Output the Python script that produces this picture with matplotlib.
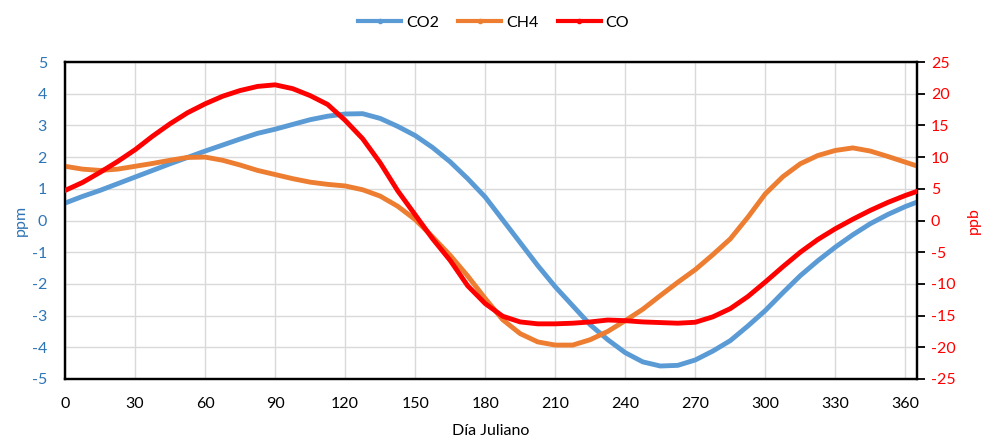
import numpy as np
import matplotlib
matplotlib.use("Agg")
import matplotlib.pyplot as plt
from matplotlib.lines import Line2D

plt.rcParams['font.family'] = ['Lato', 'DejaVu Sans']
plt.rcParams['axes.unicode_minus'] = False

# -----------------------------
# Data
# -----------------------------
dias = [0, 7.5, 15, 22.5, 30, 37.5, 45, 52.5, 60, 67.5, 75, 82.5, 90, 97.5,
        105, 112.5, 120, 127.5, 135, 142.5, 150, 157.5, 165, 172.5, 180,
        187.5, 195, 202.5, 210, 217.5, 225, 232.5, 240, 247.5, 255, 262.5,
        270, 277.5, 285, 292.5, 300, 307.5, 315, 322.5, 330, 337.5, 345,
        352.5, 360, 365]

# ppm
co2 = [0.55, 0.76, 0.95, 1.16, 1.37, 1.58, 1.79, 1.99, 2.19, 2.38, 2.57,
       2.75, 2.88, 3.03, 3.18, 3.29, 3.36, 3.37, 3.22, 2.97, 2.68, 2.30,
       1.85, 1.32, 0.74, 0.02, -0.70, -1.42, -2.09, -2.69, -3.29, -3.76,
       -4.17, -4.46, -4.59, -4.57, -4.40, -4.12, -3.79, -3.33, -2.84, -2.28,
       -1.74, -1.27, -0.84, -0.45, -0.10, 0.19, 0.44, 0.58]

# ppm
ch4 = [1.71, 1.62, 1.58, 1.62, 1.71, 1.80, 1.90, 1.99, 2.00, 1.90, 1.75,
       1.58, 1.45, 1.32, 1.21, 1.14, 1.09, 0.97, 0.77, 0.45, 0.03, -0.52,
       -1.10, -1.75, -2.46, -3.13, -3.57, -3.83, -3.93, -3.93, -3.76, -3.50,
       -3.16, -2.80, -2.37, -1.95, -1.55, -1.08, -0.58, 0.10, 0.84, 1.38,
       1.79, 2.05, 2.21, 2.29, 2.19, 2.02, 1.84, 1.72]

# ppb
co = [4.74, 6.0, 7.6, 9.3, 11.16, 13.3, 15.26, 17.0, 18.4, 19.6, 20.5,
      21.15, 21.4, 20.8, 19.7, 18.3, 15.8, 12.9, 9.1, 4.7, 0.9, -2.9,
      -6.3, -10.3, -13.1, -15.1, -16.0, -16.3, -16.3, -16.2, -16.0, -15.7,
      -15.8, -16.0, -16.1, -16.2, -16.05, -15.2, -13.9, -12.0, -9.7, -7.3,
      -5.0, -3.0, -1.3, 0.2, 1.6, 2.85, 3.95, 4.6]

x_ticks = list(range(0, 361, 30))

c_co2 = "#5B9BD5"
c_ch4 = "#ED7D31"
c_co = "#FF0000"
c_left = "#2E75B6"

# -----------------------------
# Plot
# -----------------------------
fig = plt.figure(figsize=(9.87, 4.41), dpi=100)
ax = fig.add_axes([0.0659, 0.1406, 0.8632, 0.7188])
ax2 = ax.twinx()

ax.plot(dias, co2, color=c_co2, lw=3.5, solid_joinstyle='round',
        solid_capstyle='round', zorder=3)
ax.plot(dias, ch4, color=c_ch4, lw=3.5, solid_joinstyle='round',
        solid_capstyle='round', zorder=3)
ax2.plot(dias, co, color=c_co, lw=3.5, solid_joinstyle='round',
         solid_capstyle='round', zorder=4)

ax.set_xlim(0, 365)
ax.set_ylim(-5, 5)
ax2.set_ylim(-25, 25)
ax.set_xticks(x_ticks)
ax.set_yticks(range(-5, 6))
ax2.set_yticks(range(-25, 26, 5))

ax.grid(True, color="#D9D9D9", lw=1)
ax.set_axisbelow(True)

ax.tick_params(axis='x', length=0, labelsize=11.5, pad=13)
ax.tick_params(axis='y', length=0, labelsize=11.5, labelcolor=c_left, pad=13)
ax2.tick_params(axis='y', length=6, width=1.3, labelsize=11.5, labelcolor=c_co,
                direction='out', pad=4)

for a in (ax, ax2):
    for s in a.spines.values():
        s.set_color("black")
        s.set_linewidth(1.6)

ax.set_xlabel("Día Juliano", fontsize=11.5, labelpad=9)
ax.set_ylabel("ppm", fontsize=11.5, color=c_left, labelpad=3)
ax2.set_ylabel("ppb", fontsize=11.5, color=c_co, rotation=90, labelpad=8)

handles = [
    Line2D([], [], color=c_co2, lw=3, marker='o', markersize=3),
    Line2D([], [], color=c_ch4, lw=3, marker='o', markersize=3),
    Line2D([], [], color=c_co, lw=3, marker='o', markersize=3),
]
fig.legend(handles, ["CO2", "CH4", "CO"], loc='center', bbox_to_anchor=(0.5, 0.948),
           ncol=3, frameon=False, fontsize=11.5, handlelength=2.7,
           handletextpad=0.3, columnspacing=1.2)

fig.savefig("out.png", dpi=100)
